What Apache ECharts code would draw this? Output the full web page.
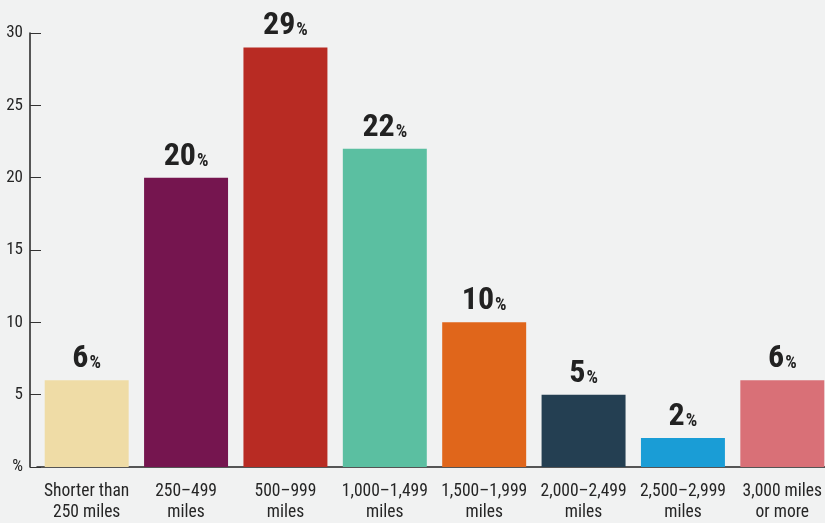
<!DOCTYPE html>
<html><head><meta charset="utf-8">
<script src="https://cdn.jsdelivr.net/npm/echarts@6/dist/echarts.min.js"></script>
<style>html,body{margin:0;padding:0;background:#f1f2f2;overflow:hidden;}#c{width:832px;height:523px;}</style>
</head><body><div id="c"></div>
<script>
const categories = ["Shorter than\n250 miles","250–499\nmiles","500–999\nmiles","1,000–1,499\nmiles","1,500–1,999\nmiles","2,000–2,499\nmiles","2,500–2,999\nmiles","3,000 miles\nor more"];
const values = [6,20,29,22,10,5,2,6];
const barColors = ["#efdca6","#75154f","#b82b23","#5bbfa1","#e0661b","#243f52","#1a9dd6","#d97077"];
const yTicks = {0:"%",5:"5",10:"10",15:"15",20:"20",25:"25",30:"30"};
const FONT = '"Roboto Condensed","Liberation Sans Narrow","DejaVu Sans Condensed",sans-serif';
const chart = echarts.init(document.getElementById('c'));
chart.setOption({
  backgroundColor:'#f1f2f2',
  animation:false,
  grid:{left:37,right:0,top:33,bottom:54},
  xAxis:{type:'category',data:categories,
    axisLine:{lineStyle:{color:'#222',width:1.5}},
    axisTick:{inside:true,length:10,lineStyle:{color:'#333'},interval:function(i){return i!==0;}},
    axisLabel:{color:'#262626',fontFamily:FONT,fontSize:17.5,lineHeight:21,margin:14,interval:0}},
  yAxis:{type:'value',min:0,max:30,interval:5,offset:7,
    axisLine:{show:true,lineStyle:{color:'#222',width:1.5}},
    axisTick:{show:true,inside:true,length:11,lineStyle:{color:'#333'}},
    splitLine:{show:false},
    axisLabel:{color:'#262626',fontFamily:FONT,fontSize:17,margin:7,formatter:v=>yTicks[v]}},
  series:[{type:'bar',barWidth:'84.5%',
    data:values.map((v,i)=>({value:v,itemStyle:{color:barColors[i]}})),
    label:{show:true,position:'top',distance:5,fontFamily:FONT,
      formatter:p=>'{n|'+p.value+'}{p|%}',
      rich:{n:{fontSize:32,fontWeight:'bold',color:'#222',fontFamily:FONT},
            p:{fontSize:18,fontWeight:'bold',color:'#222',fontFamily:FONT,padding:[9,0,0,1]}}}}]
});
</script></body></html>
